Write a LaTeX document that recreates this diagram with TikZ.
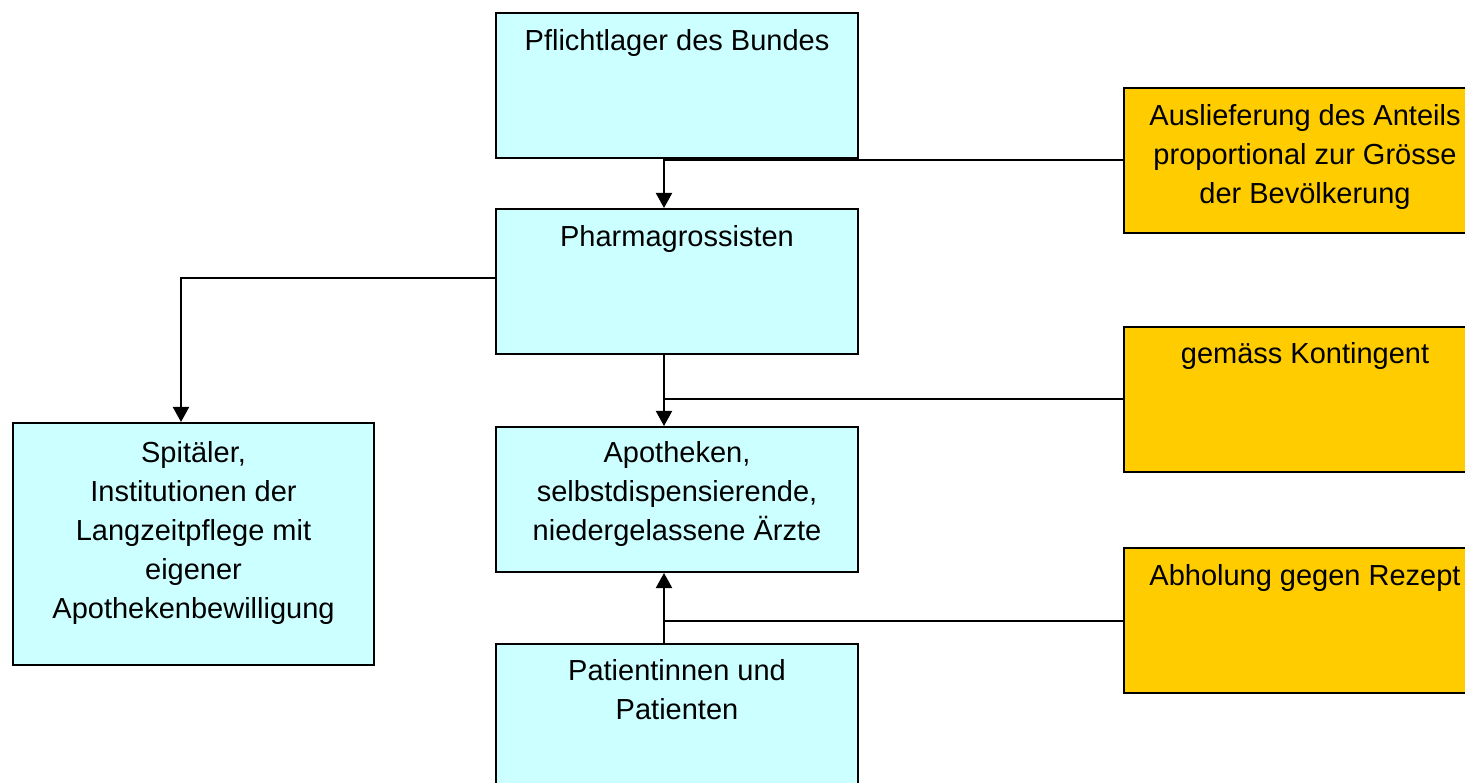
\documentclass[tikz,border=0pt]{standalone}
\usepackage{fontspec}
\setmainfont{Liberation Sans}
\usetikzlibrary{arrows.meta}
\definecolor{cyanfill}{HTML}{CCFFFF}
\definecolor{orangefill}{HTML}{FFCC00}
\tikzset{
  cbox/.style={draw, line width=2pt, fill=cyanfill, anchor=north west, inner sep=0pt, minimum width=362pt, minimum height=145pt},
  obox/.style={cbox, fill=orangefill},
  lbl/.style={anchor=north, align=center, inner sep=0pt, font=\fontsize{29}{39}\selectfont},
  conn/.style={line width=2pt},
  arr/.style={line width=2pt, -{Triangle[length=15pt,width=16pt]}}
}
\begin{document}
\begin{tikzpicture}[x=1pt,y=-1pt]
\path[use as bounding box, clip] (0,0) rectangle (1465,783);
\fill[white] (0,0) rectangle (1465,783);
% boxes
\node[cbox] (p1) at (495,12) {};
\node[cbox] (p2) at (495,208) {};
\node[cbox] (p3) at (495,426) {};
\node[cbox] (p4) at (495,643) {};
\node[cbox, minimum width=361pt, minimum height=242pt] (sp) at (12,422) {};
\node[obox] (o1) at (1123,87) {};
\node[obox] (o2) at (1123,326) {};
\node[obox] (o3) at (1123,547) {};
% labels
\node[lbl] (t1) at ([yshift=-17pt]p1.north) {Pflichtlager des Bundes};
\node[lbl] (t2) at ([yshift=-17pt]p2.north) {Pharmagrossisten};
\node[lbl] (t3) at ([yshift=-15pt]p3.north) {Apotheken,\\selbstdispensierende,\\niedergelassene Ärzte};
\node[lbl] (t4) at ([yshift=-16pt]p4.north) {Patientinnen und\\Patienten};
\node[lbl] (ts) at ([yshift=-19pt]sp.north) {Spitäler,\\Institutionen der\\Langzeitpflege mit\\eigener\\Apothekenbewilligung};
\node[lbl] (to1) at ([yshift=-17pt]o1.north) {Auslieferung des Anteils\\proportional zur Grösse\\der Bevölkerung};
\node[lbl] (to2) at ([yshift=-16pt]o2.north) {gemäss Kontingent};
\node[lbl] (to3) at ([yshift=-17pt]o3.north) {Abholung gegen Rezept};
% spine coordinates
\coordinate (spine) at (664,0);
\coordinate (lspine) at (181,0);
% connectors
\draw[arr] (p1.south -| spine) -- (p2.north -| spine);
\draw[conn] (o1.west) -- (o1.west -| spine);
\draw[arr] (p2.south -| spine) -- (p3.north -| spine);
\draw[conn] (o2.west) -- (o2.west -| spine);
\draw[arr] (p4.north -| spine) -- (p3.south -| spine);
\draw[conn] (o3.west) -- (o3.west -| spine);
\draw[arr] ([yshift=3pt]p2.west) -| (sp.north -| lspine);
\end{tikzpicture}
\end{document}
